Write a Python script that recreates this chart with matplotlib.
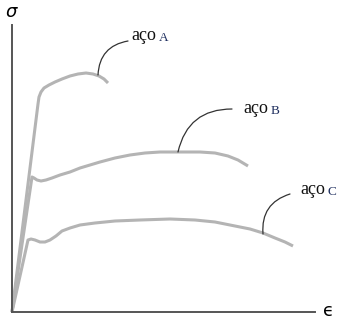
import matplotlib
matplotlib.use('Agg')
import matplotlib.pyplot as plt

# strain / stress (arbitrary units, origin at axes corner)
strain_a = [0, 26, 27, 29, 32, 37, 43, 50, 58, 66, 74, 81, 87, 92, 96]
stress_a = [0, 208, 215, 220, 224, 227, 230, 233, 236, 238, 239, 238, 236, 233, 229]

strain_b = [0, 20, 22, 25, 29, 34, 40, 48, 58, 68, 78, 88, 103, 118, 133,
            148, 168, 188, 203, 216, 226, 236]
stress_b = [0, 135, 134, 132, 131, 132, 134, 137, 140, 144, 147, 150, 154, 157, 159,
            160, 160, 160, 159, 156, 152, 146]

strain_c = [0, 16, 19, 23, 28, 33, 38, 44, 50, 58, 68, 83, 103, 128, 158,
            183, 203, 223, 238, 251, 263, 273, 281]
stress_c = [0, 72, 73, 72, 70, 70, 72, 76, 81, 84, 87, 89, 91, 92, 93,
            92, 90, 86, 83, 79, 74, 70, 66]

labels = ['aço', 'aço', 'aço']
letters = ['A', 'B', 'C']
# point on curve where the leader starts, and where the leader ends
leader_from = [(86, 237), (166, 160), (251, 78)]
leader_to = [(116, 271), (220, 203), (278, 118)]
label_pos = [(119, 272), (231, 199), (288, 118)]

curve_color = '#b4b4b4'
axis_color = '#555555'

fig = plt.figure(figsize=(3.45, 3.28), dpi=100)
ax = fig.add_axes([12 / 345, 16 / 328, 303 / 345, 287 / 328])
ax.set_xlim(0, 303)
ax.set_ylim(0, 287)

for x, y in [(strain_a, stress_a), (strain_b, stress_b), (strain_c, stress_c)]:
    ax.plot(x, y, color=curve_color, linewidth=2.2, solid_joinstyle='round',
            solid_capstyle='butt', clip_on=False)

for i in range(3):
    ax.annotate('', xy=leader_from[i], xytext=leader_to[i],
                arrowprops=dict(arrowstyle='-', color='#333333', linewidth=0.9,
                                connectionstyle='arc3,rad=0.4', shrinkA=0, shrinkB=0))
    t = ax.text(label_pos[i][0], label_pos[i][1], labels[i], family='Liberation Serif',
                fontsize=13, va='baseline', ha='left', color='#111111')
    ax.annotate(letters[i], xy=(1, 0), xycoords=t, xytext=(2, 0), textcoords='offset points',
                family='Liberation Serif', fontsize=9.5, va='bottom', ha='left', color='#1f2f5f')

for side in ['top', 'right']:
    ax.spines[side].set_visible(False)
for side in ['left', 'bottom']:
    ax.spines[side].set_color(axis_color)
    ax.spines[side].set_linewidth(1.4)
ax.set_xticks([])
ax.set_yticks([])

fig.text(12 / 345, 1 - 12 / 328, r'$\sigma$', fontsize=13, ha='center', va='center')
fig.text(328 / 345, 1 - 311 / 328, '\u03f5', family='DejaVu Sans', fontsize=13,
         ha='center', va='center')

fig.savefig('out.png', dpi=100)
